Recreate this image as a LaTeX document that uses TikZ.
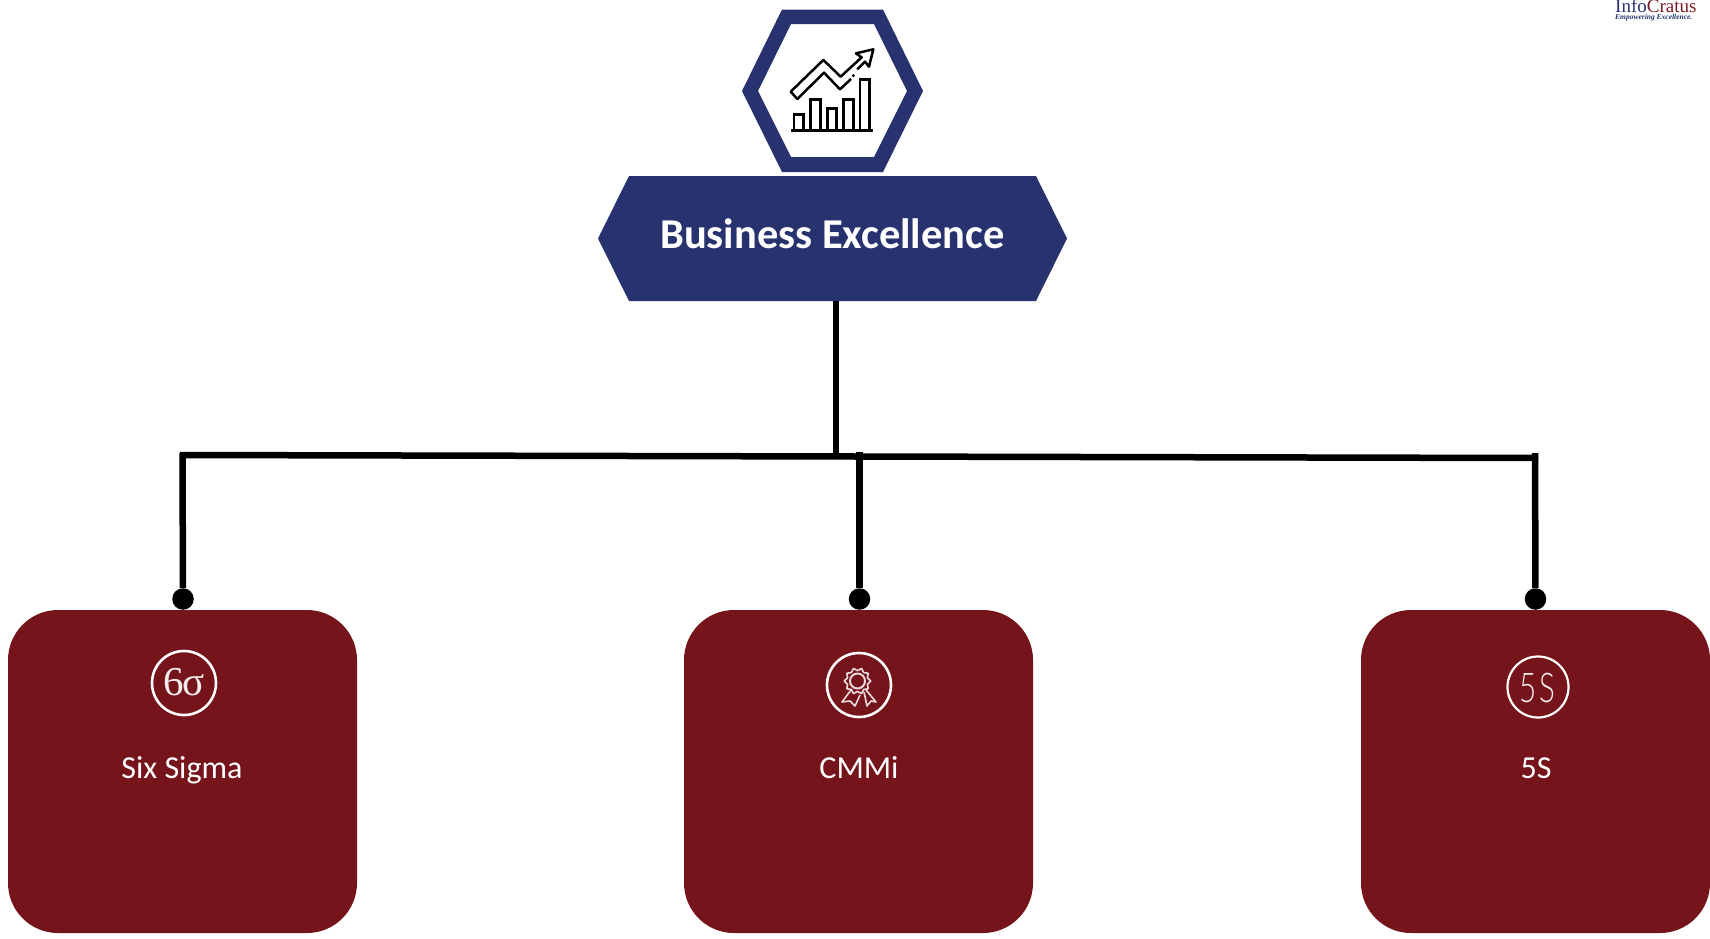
\documentclass[tikz,border=0pt]{standalone}
\usepackage{fontspec}
\setmainfont{Carlito}
\newfontfamily\logofont{Liberation Serif}
\newfontfamily\sigmafont{Liberation Serif}
\newfontfamily\fivesfont[FakeStretch=0.72]{Lato Light}
\definecolor{navy}{HTML}{28326E}
\definecolor{wine}{HTML}{75141A}
\definecolor{logored}{HTML}{7A1C25}
\tikzset{
  cardbox/.style={draw=none,fill=wine,rounded corners=50pt,minimum width=349pt,minimum height=323pt,inner sep=0pt},
  cardlabel/.style={text=white,font=\fontsize{32}{35}\selectfont,inner sep=0pt},
  iconring/.style={draw=white,line width=2.6pt,circle,inner sep=0pt},
  linkline/.style={line width=6.5pt,black},
  dotend/.style={circle,fill=black,inner sep=0pt,minimum size=21.5pt},
  iconline/.style={black,line width=2.5pt,line join=miter},
  ribbonline/.style={white!85!wine,line width=1.6pt,line join=round}
}
\begin{document}
\begin{tikzpicture}[x=1pt,y=-1pt]
\useasboundingbox (0,0) rectangle (1710,938);
\fill[white] (0,0) rectangle (1710,938);

% hexagon
\fill[navy,even odd rule] (782,9.5)--(883,9.5)--(923,91)--(883,172)--(782,172)--(742,91)--cycle
  (791,24)--(874,24)--(907,91)--(874,157)--(791,157)--(758,91)--cycle;
% chart icon (coordinates from the reference)
\begin{scope}[shift={(720,0)},x=0.3333pt,y=-0.3333pt]
  \draw[iconline,line width=3pt] (212,393)--(460,393);
  \draw[iconline] (222,393)--(222,343)--(250,343)--(250,393);
  \draw[iconline] (272,393)--(272,298)--(302,298)--(302,393);
  \draw[iconline] (322,393)--(322,325)--(350,325)--(350,393);
  \draw[iconline] (370,393)--(370,298)--(400,298)--(400,393);
  \draw[iconline] (420,393)--(420,238)--(448,238)--(448,393);
  \draw[iconline,line join=round] (393,237)--(360,268)--(312,218)--(232,297)--(212,275)--(310,180)--(362,230)--(425,172)--(408,160)--(460,148)--(447,200)--(435,185)--(412,208);
  \fill[black] (400,227) circle (5);
\end{scope}

% banner
\fill[navy] (629,176)--(1036,176)--(1067,238.5)--(1036,301)--(629,301)--(598,238.5)--cycle;
\node[minimum width=469pt,minimum height=125pt,inner sep=0pt] (banner) at (832.5,238.5) {};
\node[text=white,font=\fontsize{42.5}{46}\bfseries\selectfont,inner sep=0pt] (bannertext) at (832.5,234) {Business Excellence};

% cards
\node[cardbox] (cardA) at (182.5,771.5) {};
\node[cardbox] (cardB) at (858.5,771.5) {};
\node[cardbox] (cardC) at (1535.5,771.5) {};
\node[cardlabel] (labelA) at (182,770) {Six Sigma};
\node[cardlabel] (labelB) at (859,768) {CMMi};
\node[cardlabel] (labelC) at (1536,768) {5S};

% icon rings
\node[iconring,minimum size=64pt] (ringA) at (184,683) {};
\node[iconring,minimum size=64pt] (ringB) at (859,685) {};
\node[iconring,line width=2.2pt,minimum size=61pt] (ringC) at (1538,687) {};

\node[text=white!92!wine,inner sep=0pt,font=\sigmafont\fontsize{41}{44}\selectfont] (sixsigma) at (184,682) {6\kern-1pt σ};
\node[text=white!92!wine,inner sep=0pt,font=\fivesfont\fontsize{41}{44}\selectfont] (fives) at (1537.5,688) {5\kern3pt S};

% rosette
\draw[ribbonline,smooth cycle] plot[domain=0:342,samples=20,variable=\t]
  ({857.5+(11.8+1.4*cos(10*\t))*cos(\t)},{681+(11.8+1.4*cos(10*\t))*sin(\t)});
\draw[ribbonline,line width=1.9pt] (857.5,681) circle (7.5);
\draw[ribbonline] (851,690)--(842,702)--(850,701)--(855,706)--(860,695);
\draw[ribbonline] (864,692)--(867,706)--(871,701)--(876,702)--(866,690);

% connectors
\node[dotend] (dotA) at (183,599) {};
\node[dotend] (dotB) at (859.5,599) {};
\node[dotend] (dotC) at (1535.5,599) {};
\coordinate (jointL) at (180,455);
\coordinate (jointR) at (1538,458);
\coordinate (jointTrunk) at (836,456);
\coordinate (jointMid) at (859.5,452);
\coordinate (cornerL) at (182.5,453);
\coordinate (cornerR) at (1535,453);
\draw[linkline] (banner.south -| jointTrunk) -- (jointTrunk);
\draw[linkline] (jointL) -- (jointR);
\draw[linkline] (cornerL) -- (dotA);
\draw[linkline] (jointMid) -- (dotB);
\draw[linkline] (cornerR) -- (dotC);

% logo
\node[anchor=base west,inner sep=0pt,font=\logofont\fontsize{19}{20}\selectfont] (logo) at (1615,12.5) {\textcolor{navy}{Info}\textcolor{logored}{Cratus}};
\node[anchor=base west,inner sep=0pt,text=navy,font=\logofont\fontsize{7.5}{8}\bfseries\itshape\selectfont] (tagline) at (1615,19.5) {Empowering Excellence.};
\end{tikzpicture}
\end{document}
